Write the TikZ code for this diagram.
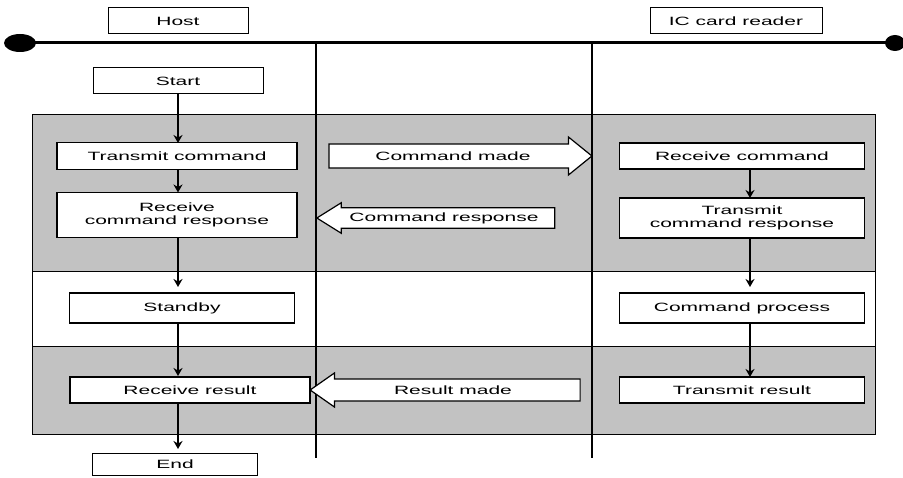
\documentclass[tikz,border=0pt]{standalone}
\usepackage{fontspec}
\newfontfamily\lanefont[FakeStretch=1.75]{Liberation Sans}
\usepackage{tikz}
\usetikzlibrary{arrows,arrows.meta,shapes.arrows,positioning}

\begin{document}
\begin{tikzpicture}[x=1pt,y=-1pt,>={Stealth[length=8pt,width=9pt]},
  box/.style={draw,line width=1.4pt,fill=white,font={\lanefont\fontsize{12}{13}\selectfont},align=center,inner sep=0pt},
  title/.style={box,line width=1pt,minimum height=26pt},
  msg/.style={single arrow,draw,line width=1.2pt,fill=white,font={\lanefont\fontsize{12}{13}\selectfont},inner xsep=2pt,single arrow head indent=0pt},
  flow/.style={->,line width=1.8pt},
  band/.style={fill=black!24}]
\useasboundingbox (0,0) rectangle (903,478);

  % shaded phases
  \fill[band] (32,115) rectangle (875,272);
  \fill[band] (32,347) rectangle (875,435);
  \draw[line width=1pt] (32,115) rectangle (875,435);
  \draw[line width=1pt] (32,272) -- (875,272) (32,347) -- (875,347);

  % time line and lanes
  \draw[line width=3pt] (18,43) -- (892,43);
  \fill (20,43) ellipse (16pt and 9pt);
  \fill (895,43) ellipse (10pt and 8pt);
  \draw[line width=2.6pt] (316,43) -- (316,458);
  \draw[line width=2.6pt] (592,43) -- (592,458);

  \node[title,minimum width=140pt] (host) at (178,21) {Host};
  \node[title,minimum width=172pt] (reader) at (736,21) {IC card reader};

  % host side
  \node[title,minimum width=170pt] (start) at (178,81) {Start};
  \node[box,minimum width=240pt,minimum height=27pt] (tcmd) at (177,156) {Transmit command};
  \node[box,minimum width=240pt,minimum height=45pt] (rresp) at (177,215) {Receive\\command response};
  \node[box,minimum width=225pt,minimum height=30pt] (standby) at (182,308) {Standby};
  \node[box,minimum width=240pt,minimum height=26pt] (rres) at (190,390) {Receive result};
  \node[title,minimum width=165pt,minimum height=22pt] (end) at (175,464) {End};

  % reader side
  \node[box,minimum width=245pt,minimum height=26pt] (rcmd) at (742,156) {Receive command};
  \node[box,minimum width=245pt,minimum height=40pt] (tresp) at (742,218) {Transmit\\command response};
  \node[box,minimum width=245pt,minimum height=30pt] (cproc) at (742,308) {Command process};
  \node[box,minimum width=245pt,minimum height=26pt] (tres) at (742,390) {Transmit result};

  % messages
  \node[msg,minimum height=263pt,inner ysep=7pt,single arrow head extend=7pt,single arrow tip angle=78] (cmdmade) at (453,156) {Command made};
  \node[msg,minimum height=238pt,inner ysep=4pt,single arrow head extend=5pt,single arrow tip angle=64,shape border rotate=180] (cmdresp) at (444,218) {Command response};
  \node[msg,minimum height=270pt,inner ysep=6pt,single arrow head extend=6pt,single arrow tip angle=70,shape border rotate=180] (resmade) at (453,390) {Result made};

  \path[flow] (start.south -| 178,0) edge (178,143)
              (178,169.5) edge (178,192.5)
              (178,237.5) edge (178,287)
              (178,323) edge (178,376)
              (178,403) edge (178,449);
  \path[flow] (750,169) edge (750,198)
              (750,238) edge (750,287)
              (750,323) edge (750,377);
\end{tikzpicture}
\end{document}
